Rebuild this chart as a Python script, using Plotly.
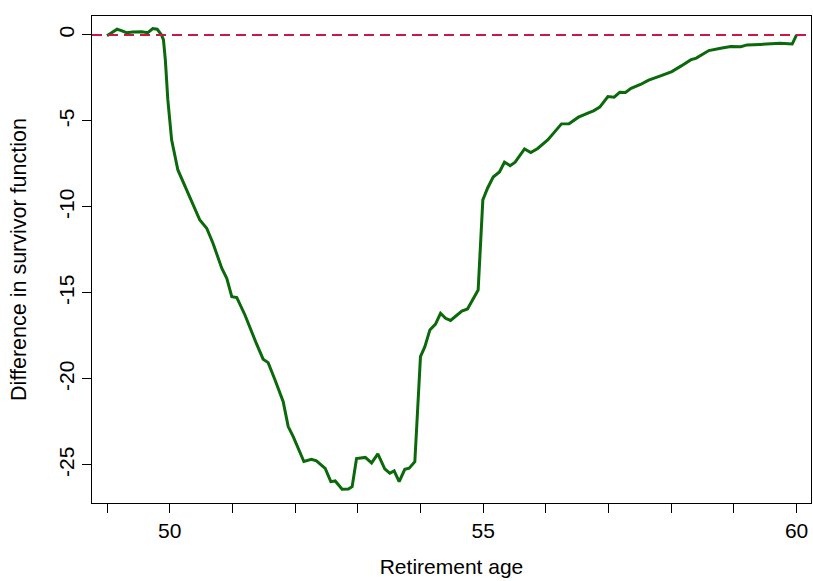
import plotly.graph_objects as go

age = [49.0, 49.07, 49.16, 49.23, 49.31, 49.41, 49.55, 49.65, 49.73, 49.80,
       49.87, 49.90, 49.93, 49.97, 50.03, 50.13, 50.27, 50.37, 50.48, 50.59,
       50.69, 50.83, 50.91, 50.99, 51.07, 51.20, 51.28, 51.38, 51.49, 51.57,
       51.68, 51.81, 51.89, 51.97, 52.14, 52.26, 52.34, 52.48, 52.57, 52.64,
       52.75, 52.85, 52.91, 52.98, 53.12, 53.22, 53.32, 53.43, 53.51, 53.58,
       53.66, 53.75, 53.82, 53.91, 54.00, 54.07, 54.15, 54.24, 54.32, 54.40,
       54.48, 54.58, 54.66, 54.75, 54.92, 54.995, 55.07, 55.16, 55.26, 55.34,
       55.43, 55.51, 55.66, 55.76, 55.87, 56.03, 56.15, 56.25, 56.37, 56.47,
       56.52, 56.68, 56.76, 56.86, 56.99, 57.09, 57.18, 57.27, 57.36, 57.51,
       57.64, 57.83, 58.01, 58.16, 58.31, 58.40, 58.60, 58.79, 58.95, 59.11,
       59.21, 59.42, 59.74, 59.93, 60.0]
diff = [-0.05, 0.10, 0.33, 0.25, 0.13, 0.17, 0.19, 0.13, 0.37, 0.33,
        0.0, -0.29, -1.45, -3.78, -6.10, -7.85, -9.01, -9.88, -10.76, -11.24,
        -12.11, -13.56, -14.15, -15.22, -15.27, -16.28, -17.05, -17.92, -18.85, -19.05,
        -20.06, -21.32, -22.77, -23.35, -24.80, -24.67, -24.76, -25.20, -25.97, -25.93,
        -26.41, -26.40, -26.26, -24.63, -24.56, -24.88, -24.36, -25.22, -25.48, -25.34,
        -25.97, -25.25, -25.19, -24.81, -18.70, -18.12, -17.15, -16.81, -16.18, -16.47,
        -16.60, -16.28, -16.05, -15.93, -14.83, -9.59, -8.91, -8.26, -7.97, -7.40,
        -7.60, -7.40, -6.63, -6.84, -6.60, -6.10, -5.62, -5.17, -5.16, -4.94,
        -4.78, -4.53, -4.41, -4.20, -3.58, -3.62, -3.33, -3.34, -3.10, -2.88,
        -2.63, -2.38, -2.13, -1.80, -1.45, -1.35, -0.91, -0.77, -0.68, -0.69,
        -0.58, -0.55, -0.49, -0.53, 0.0]

x_tickvals = list(range(49, 61))
x_ticktext = ["", "50", "", "", "", "", "55", "", "", "", "", "60"]
y_tickvals = [0, -5, -10, -15, -20, -25]
y_ticktext = ["0", "-5", "-10", "-15", "-20", "-25"]

FONT = "Liberation Sans, Arial, sans-serif"

fig = go.Figure()
fig.add_trace(go.Scatter(x=age, y=diff, mode="lines",
                         line=dict(color="#0b690b", width=3),
                         showlegend=False))
fig.add_shape(type="line", xref="paper", x0=0, x1=1, yref="y", y0=0, y1=0,
              line=dict(color="#c8184a", width=2, dash="10px,6px"), layer="above")

fig.update_layout(
    width=813, height=581,
    margin=dict(l=92, r=2, t=16, b=78),
    plot_bgcolor="white", paper_bgcolor="white",
    font=dict(family=FONT, size=21, color="black"),
    xaxis=dict(range=[48.76, 60.23], tickvals=x_tickvals, ticktext=x_ticktext,
               ticks="outside", ticklen=9, tickwidth=1, tickcolor="black",
               showgrid=False, zeroline=False, showline=True, linecolor="black",
               linewidth=1, mirror=True,
               title=dict(text="Retirement age", standoff=18,
                          font=dict(family=FONT, size=21))),
    yaxis=dict(range=[-27.21, 1.10], tickvals=y_tickvals, ticktext=y_ticktext,
               tickangle=-90,
               ticks="outside", ticklen=9, tickwidth=1, tickcolor="black",
               showgrid=False, zeroline=False, showline=True, linecolor="black",
               linewidth=1, mirror=True,
               title=dict(text="Difference in survivor function", standoff=22,
                          font=dict(family=FONT, size=21.5))),
)

fig.write_html("out.html", config={"displayModeBar": False},
               post_script="document.body.style.margin='0px';document.body.style.overflow='hidden';")
